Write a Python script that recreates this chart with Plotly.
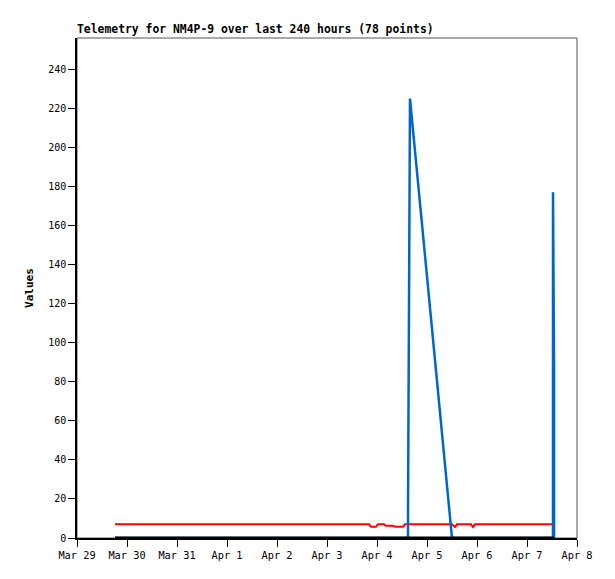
import plotly.graph_objects as go

# ---- data ----
red_times = ["2024-03-29 18:14", "2024-04-03 20:10", "2024-04-03 21:07", "2024-04-03 23:31",
             "2024-04-04 00:29", "2024-04-04 03:22", "2024-04-04 04:19", "2024-04-04 07:41",
             "2024-04-04 08:38", "2024-04-04 12:29", "2024-04-04 13:26", "2024-04-05 12:00",
             "2024-04-05 13:26", "2024-04-05 14:24", "2024-04-05 21:07", "2024-04-05 22:05",
             "2024-04-05 23:02", "2024-04-07 12:00"]
red_values = [7, 7, 5.7, 5.7, 7, 7, 6.3, 6.3, 5.8, 5.8, 7, 7, 5.6, 7, 7, 5.6, 7, 7]

blue_times = ["2024-03-29 18:14", "2024-04-04 14:53", "2024-04-04 14:54", "2024-04-04 15:50",
              "2024-04-05 12:00", "2024-04-07 12:28", "2024-04-07 12:29", "2024-04-07 12:58",
              "2024-04-07 12:59"]
blue_values = [0, 0, 17, 225, 0, 0, 177, 88, 0]

black_times = ["2024-03-29 18:14", "2024-04-07 13:00"]
black_values = [0, 0]

x_tick_vals = ["2024-03-29", "2024-03-30", "2024-03-31", "2024-04-01", "2024-04-02",
               "2024-04-03", "2024-04-04", "2024-04-05", "2024-04-06", "2024-04-07", "2024-04-08"]
x_tick_text = ["Mar 29", "Mar 30", "Mar 31", "Apr 1", "Apr 2", "Apr 3", "Apr 4",
               "Apr 5", "Apr 6", "Apr 7", "Apr 8"]
y_tick_vals = [0, 20, 40, 60, 80, 100, 120, 140, 160, 180, 200, 220, 240]

title_text = "Telemetry for NM4P-9 over last 240 hours (78 points)"
y_title = "Values"

FONT = "DejaVu Sans Mono"

fig = go.Figure()
fig.add_trace(go.Scatter(x=red_times, y=red_values, mode="lines",
                         line=dict(color="#ff0000", width=2), hoverinfo="skip"))
fig.add_trace(go.Scatter(x=blue_times, y=blue_values, mode="lines",
                         line=dict(color="#0066cc", width=2.5), hoverinfo="skip"))
fig.add_trace(go.Scatter(x=black_times, y=black_values, mode="lines",
                         line=dict(color="#000000", width=3), hoverinfo="skip"))

fig.add_shape(type="rect", xref="paper", yref="paper", x0=0, x1=1, y0=0, y1=1,
              line=dict(color="#555555", width=1), fillcolor="rgba(0,0,0,0)", layer="below")

fig.update_layout(
    width=615, height=579,
    margin=dict(l=77, r=38, t=38, b=41),
    paper_bgcolor="white", plot_bgcolor="white",
    showlegend=False,
    font=dict(family=FONT, size=10, color="black"),
    title=dict(text="<b>" + title_text + "</b>", x=77 / 615, xanchor="left",
               y=1 - 33 / 579, yanchor="bottom",
               font=dict(family=FONT, size=11.4, color="black")),
    xaxis=dict(type="date", range=["2024-03-29", "2024-04-08"],
               tickmode="array", tickvals=x_tick_vals, ticktext=x_tick_text,
               showgrid=False, zeroline=False, showline=True, linecolor="black", linewidth=2,
               ticks="outside", ticklen=7, tickcolor="black", tickwidth=1,
               tickfont=dict(family=FONT, size=10.3), automargin=False),
    yaxis=dict(range=[0, 256], tickmode="array", tickvals=y_tick_vals,
               showgrid=False, zeroline=False, showline=True, linecolor="black", linewidth=1.5,
               ticks="outside", ticklen=7, tickcolor="black", tickwidth=1,
               tickfont=dict(family=FONT, size=10), automargin=False,
               title=dict(text="<b>" + y_title + "</b>", standoff=12,
                          font=dict(family=FONT, size=11))),
)

fig.write_html("out.html", config={"displayModeBar": False},
               post_script="document.body.style.margin='0';")
